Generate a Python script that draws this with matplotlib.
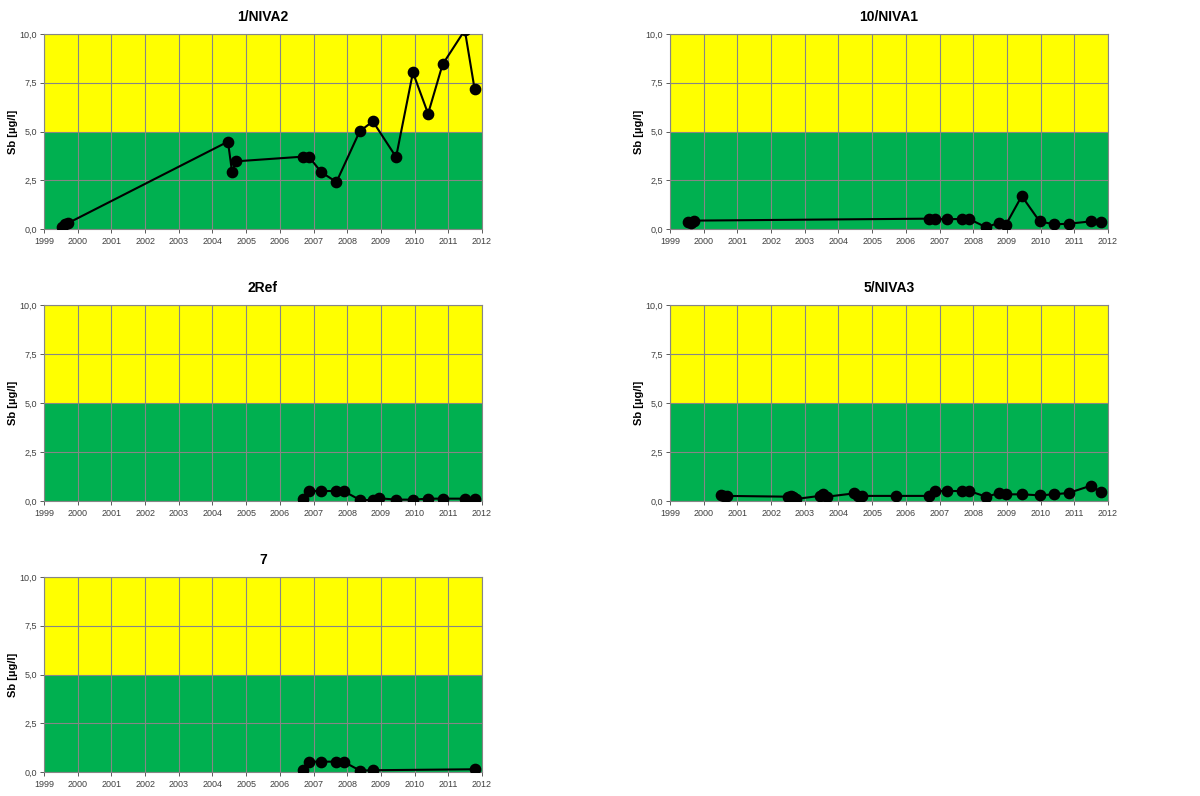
import numpy as np
import matplotlib
matplotlib.use('Agg')
import matplotlib.pyplot as plt
from matplotlib.ticker import FuncFormatter

plt.rcParams['font.family'] = ['Liberation Sans', 'DejaVu Sans']

# station titles
titles = ['1/NIVA2', '10/NIVA1', '2Ref', '5/NIVA3', '7']

# sampling dates (decimal year) and Sb concentration [ug/l]
niva2_x = [1999.54, 1999.63, 1999.70, 2004.46, 2004.58, 2004.70, 2006.68, 2006.86,
           2007.23, 2007.68, 2008.37, 2008.76, 2009.45, 2009.95, 2010.40, 2010.83,
           2011.49, 2011.78]
niva2_y = [0.12, 0.26, 0.29, 4.48, 2.94, 3.47, 3.71, 3.71,
           2.91, 2.41, 5.01, 5.52, 3.69, 8.03, 5.91, 8.44,
           10.2, 7.18]

niva1_x = [1999.54, 1999.63, 1999.71, 2006.68, 2006.87, 2007.23, 2007.68, 2007.88,
           2008.38, 2008.75, 2008.96, 2009.44, 2009.97, 2010.40, 2010.83, 2011.49,
           2011.78]
niva1_y = [0.38, 0.29, 0.43, 0.53, 0.51, 0.51, 0.51, 0.51,
           0.09, 0.31, 0.19, 1.69, 0.39, 0.24, 0.27, 0.39,
           0.36]

ref2_x = [2006.69, 2006.86, 2007.23, 2007.68, 2007.89, 2008.38, 2008.75, 2008.95,
          2009.45, 2009.96, 2010.40, 2010.83, 2011.51, 2011.79]
ref2_y = [0.10, 0.51, 0.51, 0.51, 0.51, 0.05, 0.05, 0.14,
          0.07, 0.07, 0.12, 0.12, 0.12, 0.12]

niva3_x = [2000.50, 2000.61, 2000.69, 2002.51, 2002.60, 2002.66, 2002.73, 2003.44,
           2003.55, 2003.66, 2004.47, 2004.59, 2004.70, 2005.70, 2006.68, 2006.87,
           2007.23, 2007.68, 2007.88, 2008.38, 2008.75, 2008.96, 2009.44, 2009.97,
           2010.40, 2010.83, 2011.49, 2011.78]
niva3_y = [0.31, 0.24, 0.26, 0.22, 0.24, 0.19, 0.10, 0.26,
           0.34, 0.22, 0.39, 0.28, 0.26, 0.26, 0.26, 0.51,
           0.51, 0.51, 0.51, 0.22, 0.39, 0.34, 0.34, 0.29,
           0.34, 0.41, 0.78, 0.48]

st7_x = [2006.69, 2006.86, 2007.23, 2007.68, 2007.89, 2008.38, 2008.75, 2011.79]
st7_y = [0.12, 0.53, 0.53, 0.53, 0.53, 0.07, 0.09, 0.14]

series = [(niva2_x, niva2_y), (niva1_x, niva1_y), (ref2_x, ref2_y),
          (niva3_x, niva3_y), (st7_x, st7_y)]

years = list(range(1999, 2013))
limit_good = 5.0
ymax = 10.0

W, H = 1200, 796
fig = plt.figure(figsize=(12, 7.96), dpi=100)

# axes boxes in pixels: left, top, right, bottom
lefts = [44, 670]
rights = [482, 1108]
tops = [34, 305, 577]
bottoms = [229, 501, 772]
title_y = [17, 288, 560]

for i, (t, (xs, ys)) in enumerate(zip(titles, series)):
    row, col = divmod(i, 2)
    l, r = lefts[col], rights[col]
    tp, bt = tops[row], bottoms[row]
    ax = fig.add_axes([l / W, 1 - bt / H, (r - l) / W, (bt - tp) / H])
    ax.axhspan(0, limit_good, color='#00B050', zorder=0.5, lw=0)
    ax.axhspan(limit_good, ymax, color='#FFFF00', zorder=0.5, lw=0)
    ax.plot(xs, ys, color='black', lw=1.5, marker='o', ms=7.4, zorder=3, clip_on=True)
    ax.set_xlim(1999, 2012)
    ax.set_ylim(0, ymax)
    ax.set_xticks(years)
    ax.set_yticks([0, 2.5, 5, 7.5, 10])
    ax.yaxis.set_major_formatter(FuncFormatter(lambda v, p: ('%.1f' % v).replace('.', ',')))
    ax.grid(True, color='#868686', lw=0.8, zorder=1.5)
    ax.tick_params(labelsize=6.5, colors='#404040', length=3, width=0.6, pad=2)
    ax.tick_params(axis='x', pad=3)
    for s in ax.spines.values():
        s.set_color('#868686')
        s.set_linewidth(0.8)
    ax.set_ylabel('Sb [µg/l]', fontsize=8, fontweight='bold', labelpad=1)
    fig.text((l + r) / 2 / W, 1 - title_y[row] / H, t, ha='center', va='center',
             fontsize=10, fontweight='bold')

fig.savefig('out.png', dpi=100)
